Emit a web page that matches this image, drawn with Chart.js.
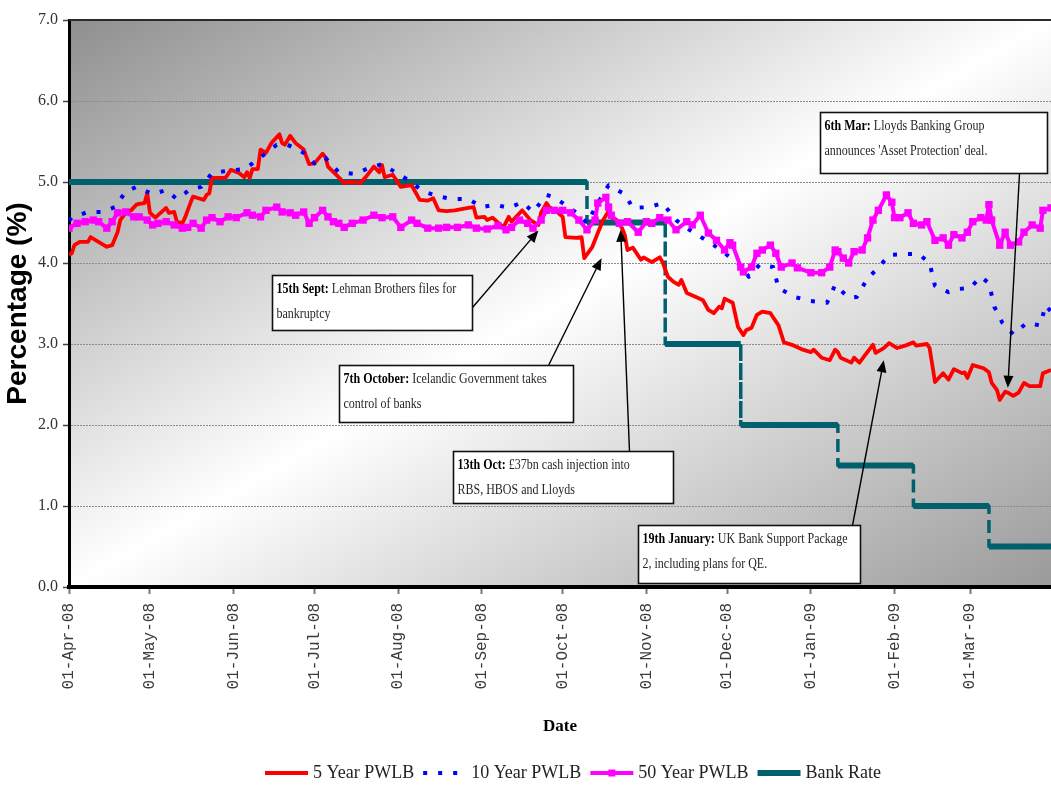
<!DOCTYPE html>
<html>
<head>
<meta charset="utf-8">
<title>PWLB rates and Bank Rate, April 2008 to March 2009</title>
<script src="https://cdn.jsdelivr.net/npm/chart.js@4.4.1/dist/chart.umd.min.js"></script>
<style>
  html, body { margin: 0; padding: 0; background: #ffffff; }
  canvas { display: block; }
</style>
</head>
<body>
<canvas id="rates" width="1051" height="785" style="width:1051px;height:785px"></canvas>
<script>
// x values are days after 1 April 2008
const tickDays   = [0, 30, 61, 91, 122, 153, 183, 214, 244, 275, 306, 334];
const tickLabels = ['01-Apr-08', '01-May-08', '01-Jun-08', '01-Jul-08', '01-Aug-08', '01-Sep-08',
                    '01-Oct-08', '01-Nov-08', '01-Dec-08', '01-Jan-09', '01-Feb-09', '01-Mar-09'];
const rateTicks  = [0, 1, 2, 3, 4, 5, 6, 7];

const seriesNames = ['5 Year PWLB', '10 Year PWLB', '50 Year PWLB', 'Bank Rate'];

const fiveYearDays = [
  0, 1, 2, 4, 7, 8, 10, 14, 16, 18,
  19, 21, 23, 25, 26, 28, 29, 30, 32, 36,
  37, 39, 40, 42, 43, 45, 46, 48, 50, 51,
  52, 53, 58, 60, 63, 65, 66, 67, 68, 70,
  71, 73, 75, 78, 79, 80, 82, 84, 87, 89,
  91, 94, 95, 96, 99, 102, 104, 108, 110, 113,
  115, 116, 117, 120, 123, 127, 130, 133, 135, 137,
  140, 143, 148, 150, 151, 154, 155, 157, 161, 163,
  164, 168, 171, 174, 175, 177, 178, 181, 183, 184,
  188, 190, 191, 194, 196, 198, 200, 201, 203, 205,
  206, 207, 209, 212, 213, 216, 219, 220, 222, 224,
  226, 227, 229, 233, 235, 237, 239, 241, 242, 243,
  246, 248, 250, 251, 253, 255, 257, 260, 263, 265,
  268, 272, 275, 276, 279, 282, 284, 285, 286, 290,
  291, 293, 295, 298, 299, 302, 304, 307, 310, 313,
  314, 318, 319, 321, 324, 326, 328, 331, 332, 333,
  335, 339, 341, 342, 344, 345, 347, 348, 350, 352,
  354, 356, 360, 361, 364];
const fiveYearRate = [
  4.10, 4.12, 4.22, 4.26, 4.26, 4.32, 4.28, 4.20, 4.22, 4.38,
  4.53, 4.62, 4.65, 4.72, 4.73, 4.74, 4.86, 4.62, 4.56, 4.68,
  4.62, 4.63, 4.51, 4.49, 4.56, 4.74, 4.82, 4.80, 4.78, 4.84,
  4.86, 5.05, 5.05, 5.15, 5.11, 5.06, 5.12, 5.05, 5.16, 5.16,
  5.40, 5.36, 5.48, 5.59, 5.48, 5.46, 5.57, 5.48, 5.40, 5.22,
  5.23, 5.35, 5.31, 5.19, 5.09, 4.99, 5.00, 4.99, 5.06, 5.19,
  5.12, 5.21, 5.06, 5.09, 4.94, 4.96, 4.78, 4.77, 4.80, 4.65,
  4.64, 4.65, 4.68, 4.69, 4.56, 4.57, 4.53, 4.56, 4.44, 4.57,
  4.51, 4.65, 4.53, 4.47, 4.62, 4.74, 4.69, 4.63, 4.57, 4.32,
  4.31, 4.32, 4.06, 4.20, 4.37, 4.53, 4.64, 4.56, 4.53, 4.43,
  4.35, 4.16, 4.19, 4.04, 4.07, 4.01, 4.07, 4.01, 3.83, 3.77,
  3.73, 3.79, 3.63, 3.57, 3.54, 3.42, 3.38, 3.46, 3.44, 3.56,
  3.51, 3.21, 3.11, 3.17, 3.20, 3.36, 3.40, 3.38, 3.23, 3.02,
  2.99, 2.93, 2.90, 2.93, 2.83, 2.80, 2.93, 2.90, 2.83, 2.77,
  2.83, 2.77, 2.86, 2.99, 2.89, 2.95, 3.01, 2.95, 2.98, 3.02,
  2.98, 3.00, 2.95, 2.53, 2.64, 2.56, 2.69, 2.64, 2.65, 2.58,
  2.74, 2.70, 2.65, 2.52, 2.43, 2.31, 2.41, 2.40, 2.36, 2.40,
  2.52, 2.48, 2.48, 2.64, 2.68];

const tenYearDays = [
  0, 1, 7, 12, 17, 21, 25, 31, 36, 40,
  45, 49, 53, 59, 65, 68, 72, 77, 81, 87,
  91, 95, 100, 106, 111, 116, 121, 126, 131, 137,
  142, 148, 153, 158, 163, 168, 172, 177, 180, 189,
  192, 196, 200, 206, 209, 215, 220, 225, 230, 239,
  248, 252, 256, 261, 263, 269, 275, 281, 284, 289,
  292, 296, 300, 304, 309, 315, 319, 321, 326, 330,
  334, 338, 341, 343, 346, 350, 355, 360, 362, 364];
const tenYearRate = [
  4.52, 4.56, 4.63, 4.63, 4.69, 4.88, 4.94, 4.85, 4.90, 4.79,
  4.91, 4.94, 5.11, 5.14, 5.16, 5.23, 5.33, 5.46, 5.46, 5.36,
  5.23, 5.30, 5.12, 5.10, 5.17, 5.22, 5.12, 5.02, 4.89, 4.82,
  4.79, 4.79, 4.69, 4.72, 4.68, 4.75, 4.63, 4.84, 4.81, 4.60,
  4.49, 4.74, 4.96, 4.85, 4.68, 4.69, 4.74, 4.53, 4.41, 4.22,
  4.00, 3.83, 3.98, 3.95, 3.69, 3.58, 3.53, 3.51, 3.73, 3.57,
  3.58, 3.81, 3.94, 4.10, 4.11, 4.11, 4.00, 3.72, 3.64, 3.68,
  3.69, 3.83, 3.75, 3.46, 3.26, 3.12, 3.26, 3.23, 3.48, 3.40];

const fiftyYearDays = [
  0, 3, 6, 9, 11, 14, 16, 18, 21, 24,
  26, 29, 31, 33, 36, 39, 42, 44, 46, 49,
  51, 53, 56, 59, 62, 66, 68, 71, 73, 77,
  79, 82, 84, 87, 89, 91, 94, 96, 98, 100,
  102, 105, 109, 113, 116, 120, 123, 127, 129, 133,
  137, 140, 144, 148, 151, 155, 159, 162, 164, 167,
  170, 172, 175, 177, 180, 183, 186, 189, 192, 195,
  196, 199, 200, 201, 204, 207, 211, 214, 216, 219,
  222, 225, 229, 231, 234, 237, 240, 243, 245, 246,
  249, 250, 253, 255, 257, 260, 262, 264, 268, 270,
  275, 279, 282, 284, 285, 287, 289, 291, 294, 296,
  298, 300, 303, 305, 306, 308, 311, 313, 316, 318,
  321, 324, 326, 328, 331, 333, 335, 338, 340, 341,
  342, 345, 347, 349, 352, 354, 357, 360, 361, 364];
const fiftyYearRate = [
  4.43, 4.49, 4.51, 4.53, 4.51, 4.43, 4.51, 4.62, 4.63, 4.57,
  4.57, 4.53, 4.47, 4.49, 4.51, 4.47, 4.43, 4.44, 4.49, 4.43,
  4.53, 4.56, 4.51, 4.57, 4.56, 4.62, 4.59, 4.57, 4.65, 4.69,
  4.63, 4.62, 4.59, 4.63, 4.49, 4.56, 4.65, 4.57, 4.51, 4.49,
  4.44, 4.49, 4.53, 4.59, 4.56, 4.57, 4.44, 4.53, 4.49, 4.43,
  4.43, 4.44, 4.44, 4.47, 4.43, 4.42, 4.46, 4.41, 4.44, 4.53,
  4.49, 4.43, 4.53, 4.65, 4.65, 4.65, 4.62, 4.53, 4.41, 4.53,
  4.74, 4.81, 4.69, 4.59, 4.49, 4.51, 4.38, 4.51, 4.49, 4.56,
  4.53, 4.41, 4.51, 4.47, 4.59, 4.37, 4.28, 4.16, 4.25, 4.22,
  3.95, 3.89, 3.95, 4.12, 4.16, 4.22, 4.12, 3.95, 4.00, 3.94,
  3.88, 3.88, 3.95, 4.16, 4.14, 4.06, 4.00, 4.14, 4.16, 4.31,
  4.53, 4.65, 4.84, 4.75, 4.56, 4.56, 4.62, 4.49, 4.47, 4.51,
  4.28, 4.31, 4.22, 4.35, 4.31, 4.38, 4.51, 4.56, 4.53, 4.72,
  4.53, 4.22, 4.38, 4.22, 4.26, 4.38, 4.47, 4.43, 4.65, 4.68];

// Bank Rate steps: each cut appears as two points on the same day
const bankRateDays = [0, 192, 192, 221, 221, 249, 249, 285, 285, 313, 313, 341, 341, 364];
const bankRate     = [5.0, 5.0, 4.5, 4.5, 3.0, 3.0, 2.0, 2.0, 1.5, 1.5, 1.0, 1.0, 0.5, 0.5];

// Event call-outs: box anchored at (day, rate) of its top-left corner, arrow to (day, rate)
const events = [
  { head: '15th Sept:', body: ' Lehman Brothers files for', line2: 'bankruptcy',
    boxDay: 75.3, boxRate: 3.85, w: 200, h: 55, tail: 'right', tailAt: 32, tipDay: 174, tipRate: 4.40 },
  { head: '7th October:', body: ' Icelandic Government takes', line2: 'control of banks',
    boxDay: 100.2, boxRate: 2.74, w: 234, h: 57, tail: 'top', tailAt: 209, tipDay: 197.4, tipRate: 4.06 },
  { head: '13th Oct:', body: ' £37bn cash injection into', line2: 'RBS, HBOS and Lloyds',
    boxDay: 142.5, boxRate: 1.68, w: 220, h: 52, tail: 'top', tailAt: 176, tipDay: 204.5, tipRate: 4.41 },
  { head: '6th Mar:', body: ' Lloyds Banking Group', line2: "announces 'Asset Protection' deal.",
    boxDay: 278.3, boxRate: 5.86, w: 227, h: 61, tail: 'bottom', tailAt: 199, tipDay: 348, tipRate: 2.46 },
  { head: '19th January:', body: ' UK Bank Support Package', line2: '2, including plans for QE.',
    boxDay: 210.8, boxRate: 0.765, w: 222, h: 58, tail: 'top', tailAt: 214, tipDay: 302, tipRate: 2.80 }
];

const SERIF = '"Liberation Serif", "DejaVu Serif", serif';
const SANS  = '"Liberation Sans", Arial, sans-serif';
const MONO  = '"Liberation Mono", "DejaVu Sans Mono", monospace';

const pairs = (xs, ys) => xs.map((x, i) => ({ x: x, y: ys[i] }));

// Plot-area fill: diagonal grey - white - grey
const plotBackground = {
  id: 'plotBackground',
  beforeDraw(chart) {
    const { ctx, chartArea: { left, top, right, bottom } } = chart;
    ctx.save();
    ctx.fillStyle = '#ffffff';
    ctx.fillRect(0, 0, chart.width, chart.height);
    ctx.translate(left, top);
    ctx.scale(right - left, bottom - top);
    const g = ctx.createLinearGradient(0, 0, 1, 1);
    g.addColorStop(0, '#8f8f8f');
    g.addColorStop(0.5, '#ffffff');
    g.addColorStop(1, '#9a9a9a');
    ctx.fillStyle = g;
    ctx.fillRect(0, 0, 1, 1);
    ctx.restore();
  },
  beforeDatasetsDraw(chart) {
    const { ctx, chartArea: { left, top, right } } = chart;
    ctx.save();
    ctx.strokeStyle = '#2a2a2a';
    ctx.lineWidth = 2;
    ctx.beginPath();
    ctx.moveTo(left, top);
    ctx.lineTo(right, top);
    ctx.stroke();
    ctx.restore();
  }
};

function arrow(ctx, x0, y0, x1, y1) {
  const ang = Math.atan2(y1 - y0, x1 - x0);
  const len = 12, half = 5;
  ctx.beginPath();
  ctx.moveTo(x0, y0);
  ctx.lineTo(x1 - Math.cos(ang) * len * 0.8, y1 - Math.sin(ang) * len * 0.8);
  ctx.stroke();
  ctx.beginPath();
  ctx.moveTo(x1, y1);
  ctx.lineTo(x1 - Math.cos(ang) * len + Math.sin(ang) * half, y1 - Math.sin(ang) * len - Math.cos(ang) * half);
  ctx.lineTo(x1 - Math.cos(ang) * len - Math.sin(ang) * half, y1 - Math.sin(ang) * len + Math.cos(ang) * half);
  ctx.closePath();
  ctx.fill();
}

// Call-out boxes with arrows pointing at the curves
const eventCallouts = {
  id: 'eventCallouts',
  afterDatasetsDraw(chart) {
    const { ctx, scales: { x, y } } = chart;
    const squeeze = 0.8;
    ctx.save();
    events.forEach(ev => {
      const bx = Math.round(x.getPixelForValue(ev.boxDay)) + 0.5;
      const by = Math.round(y.getPixelForValue(ev.boxRate)) + 0.5;
      let sx, sy;
      if (ev.tail === 'right') { sx = bx + ev.w; sy = by + ev.tailAt; }
      else if (ev.tail === 'bottom') { sx = bx + ev.tailAt; sy = by + ev.h; }
      else { sx = bx + ev.tailAt; sy = by; }
      ctx.strokeStyle = '#000';
      ctx.fillStyle = '#000';
      ctx.lineWidth = 1.4;
      arrow(ctx, sx, sy, x.getPixelForValue(ev.tipDay), y.getPixelForValue(ev.tipRate));

      ctx.fillStyle = '#ffffff';
      ctx.fillRect(bx, by, ev.w, ev.h);
      ctx.strokeStyle = '#111';
      ctx.lineWidth = 1.6;
      ctx.strokeRect(bx, by, ev.w, ev.h);

      ctx.save();
      ctx.translate(bx + 4, by + 17);
      ctx.scale(squeeze, 1);
      ctx.textBaseline = 'alphabetic';
      ctx.textAlign = 'left';
      ctx.font = 'bold 15px ' + SERIF;
      ctx.fillStyle = '#000';
      ctx.fillText(ev.head, 0, 0);
      const hw = ctx.measureText(ev.head).width;
      ctx.font = '15px ' + SERIF;
      ctx.fillStyle = '#262626';
      ctx.fillText(ev.body, hw, 0);
      ctx.fillText(ev.line2, 0, 25);
      ctx.restore();
    });
    ctx.restore();
  }
};

// Series key beneath the axis title
const seriesKey = {
  id: 'seriesKey',
  afterDraw(chart) {
    const { ctx } = chart;
    const yMid = 773, sample = 43, gapText = 5, gapItem = 9;
    ctx.save();
    ctx.font = '18px ' + SERIF;
    ctx.textBaseline = 'middle';
    ctx.textAlign = 'left';
    const items = chart.data.datasets.map(ds => ({ ds, w: ctx.measureText(ds.label).width }));
    const total = items.reduce((s, it) => s + sample + gapText + it.w, 0) + gapItem * (items.length - 1);
    let xPos = 573 - total / 2;
    items.forEach(({ ds, w }) => {
      ctx.save();
      ctx.strokeStyle = ds.borderColor;
      ctx.lineWidth = ds.keyWidth;
      ctx.setLineDash(ds.borderDash || []);
      ctx.beginPath();
      ctx.moveTo(xPos, yMid);
      ctx.lineTo(xPos + sample, yMid);
      ctx.stroke();
      if (ds.pointStyle === 'rect') {
        ctx.fillStyle = ds.pointBackgroundColor;
        ctx.fillRect(xPos + sample / 2 - 3.5, yMid - 3.5, 7, 7);
      }
      ctx.restore();
      ctx.fillStyle = '#222';
      ctx.fillText(ds.label, xPos + sample + gapText, yMid);
      xPos += sample + gapText + w + gapItem;
    });
    ctx.restore();
  }
};

const stepChange = c => c.p0.parsed.y !== c.p1.parsed.y;

new Chart(document.getElementById('rates'), {
  type: 'line',
  data: {
    datasets: [
      { label: seriesNames[0], data: pairs(fiveYearDays, fiveYearRate),
        borderColor: '#ff0000', borderWidth: 3.8, keyWidth: 4, pointRadius: 0, order: 2 },
      { label: seriesNames[1], data: pairs(tenYearDays, tenYearRate),
        borderColor: '#0000ff', borderWidth: 4, keyWidth: 4, borderDash: [4, 11], pointRadius: 0, order: 1 },
      { label: seriesNames[2], data: pairs(fiftyYearDays, fiftyYearRate),
        borderColor: '#ff00ff', borderWidth: 4, keyWidth: 4, pointStyle: 'rect', pointRadius: 5.2,
        pointBackgroundColor: '#ff00ff', pointBorderColor: '#ff00ff', pointBorderWidth: 0, order: 0 },
      { label: seriesNames[3], data: pairs(bankRateDays, bankRate),
        borderColor: '#00606e', borderWidth: 6, keyWidth: 6, pointRadius: 0, order: 3,
        segment: {
          borderDash: c => stepChange(c) ? [8, 11] : undefined,
          borderWidth: c => stepChange(c) ? 3.5 : undefined
        } }
    ]
  },
  options: {
    responsive: false,
    animation: false,
    devicePixelRatio: 1,
    layout: { autoPadding: false, padding: { top: 20, right: 0, bottom: 0, left: 0 } },
    elements: { line: { tension: 0, borderCapStyle: 'butt', borderJoinStyle: 'round' } },
    plugins: { legend: { display: false }, tooltip: { enabled: false } },
    scales: {
      x: {
        type: 'linear', min: 0, max: 364,
        afterBuildTicks: s => { s.ticks = tickDays.map(v => ({ value: v })); },
        afterFit: s => { s.height = 198; s.paddingRight = 0; },
        ticks: {
          autoSkip: false, minRotation: 90, maxRotation: 90, padding: 9, color: '#3a3a3a',
          font: { family: MONO, size: 16 },
          callback: v => tickLabels[tickDays.indexOf(v)]
        },
        grid: { drawOnChartArea: false, drawTicks: true, tickLength: 7, tickColor: '#777', tickWidth: 2 },
        border: { display: true, color: '#000', width: 4 },
        title: { display: true, text: 'Date', color: '#000',
                 font: { family: SERIF, size: 17, weight: 'bold' }, padding: { top: 0, bottom: 48 } }
      },
      y: {
        min: 0, max: 7,
        afterBuildTicks: s => { s.ticks = rateTicks.map(v => ({ value: v })); },
        afterFit: s => { s.width = 69; },
        ticks: { padding: 5, color: '#333', font: { family: SERIF, size: 16 }, callback: v => v.toFixed(1) },
        grid: { color: '#8c8c8c', lineWidth: 1, tickLength: 6, tickColor: '#444', tickWidth: 1.5 },
        border: { display: true, color: '#000', width: 3, dash: [2, 1] },
        title: { display: true, text: 'Percentage (%)', color: '#000',
                 font: { family: SANS, size: 28, weight: 'bold' }, padding: { top: 1, bottom: 0 } }
      }
    }
  },
  plugins: [plotBackground, eventCallouts, seriesKey]
});
</script>
</body>
</html>
